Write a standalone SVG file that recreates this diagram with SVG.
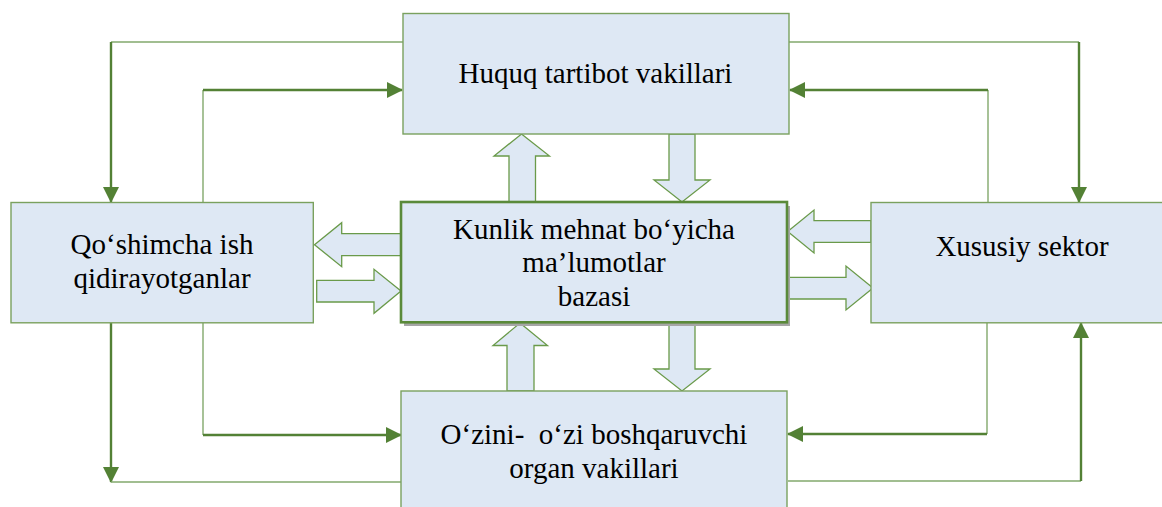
<svg xmlns="http://www.w3.org/2000/svg" width="1162" height="507" viewBox="0 0 1162 507">
<defs>
<marker id="ah" viewBox="0 0 16 16" refX="15" refY="8" markerWidth="16" markerHeight="16" markerUnits="userSpaceOnUse" orient="auto">
<path d="M0,0 L16,8 L0,16 Z" fill="#538135"/>
</marker>
<style>
.box{fill:#DEE8F4;stroke:#7AA15E;stroke-width:1.4}
.main{fill:#DEE8F4;stroke:#5A8A3A;stroke-width:2.6}
.shadow{fill:#A6A6A6}
.blk{fill:#DEE8F4;stroke:#6A9A4A;stroke-width:1.3;stroke-linejoin:miter}
.thin{fill:none;stroke:#82A86C;stroke-width:1.4}
.thick{fill:none;stroke:#538135;stroke-width:2.4;marker-end:url(#ah)}
.t{font-size:29px;fill:#000;text-anchor:middle}
</style>
</defs>
<rect width="1162" height="507" fill="#fff"/>

<g id="connectors">
<path class="thin" d="M403,42 H111"/>
<path class="thick" d="M111,42 V202"/>
<path class="thin" d="M203,202.5 V90"/>
<path class="thick" d="M203,90 H402"/>
<path class="thin" d="M789,42 H1079"/>
<path class="thick" d="M1079,42 V202"/>
<path class="thin" d="M988,202.5 V90"/>
<path class="thick" d="M988,90 H790"/>
<path class="thin" d="M203,323 V435"/>
<path class="thick" d="M203,435 H401"/>
<path class="thick" d="M111,323 V482"/>
<path class="thin" d="M111,482 H401"/>
<path class="thin" d="M987,323 V434"/>
<path class="thick" d="M987,434 H788"/>
<path class="thin" d="M788,481 H1081"/>
<path class="thick" d="M1081,481 V323"/>
</g>

<g id="block-arrows">
<polygon class="blk" points="521.5,134 549.5,156 535.5,156 535.5,202 509,202 509,156 494,156"/>
<polygon class="blk" points="669,134 695,134 695,180 710,180 682,202 654,180 669,180"/>
<polygon class="blk" points="520,323 547.5,345.5 534,345.5 534,391 507,391 507,345.5 493,345.5"/>
<polygon class="blk" points="669,322 695,322 695,369 710,369 682,391 654,369 669,369"/>
<polygon class="blk" points="314.5,244.7 341.7,222.7 341.7,233.7 401,233.7 401,255.7 341.7,255.7 341.7,266.7"/>
<polygon class="blk" points="316.7,280.3 374,280.3 374,269.3 401,291 374,313.3 374,302 316.7,302"/>
<polygon class="blk" points="787.7,231.5 814,210 814,220.7 871,220.7 871,242.3 814,242.3 814,253"/>
<polygon class="blk" points="787,277.3 846,277.3 846,266 873,288 846,310 846,299 787,299"/>
</g>

<g font-family="'Liberation Serif', Tinos, 'Times New Roman', 'DejaVu Serif', serif">
<g id="node-top">
<rect class="box" x="403" y="13.5" width="386" height="120.5"/>
<text class="t" x="595.5" y="82.7">Huquq tartibot vakillari</text>
</g>

<g id="node-left">
<rect class="box" x="11" y="202.5" width="302.3" height="120.3"/>
<text class="t" x="162" y="254.3">Qo‘shimcha ish</text>
<text class="t" x="162" y="288.3">qidirayotganlar</text>
</g>

<g id="node-center">
<rect class="shadow" x="404" y="206" width="386" height="120"/>
<rect class="main" x="401" y="202" width="386" height="120.3"/>
<text class="t" x="594" y="239">Kunlik mehnat bo‘yicha</text>
<text class="t" x="594" y="272.3">ma’lumotlar</text>
<text class="t" x="594" y="305.7">bazasi</text>
</g>

<g id="node-right">
<rect class="box" x="871" y="202.5" width="305" height="120.3"/>
<text class="t" x="1022" y="256">Xususiy sektor</text>
</g>

<g id="node-bottom">
<rect class="box" x="401" y="391" width="386" height="130"/>
<text class="t" x="594" y="444.3" xml:space="preserve" style="white-space:pre">O‘zini-  o‘zi boshqaruvchi</text>
<text class="t" x="594" y="477.7">organ vakillari</text>
</g>
</g>
</svg>
